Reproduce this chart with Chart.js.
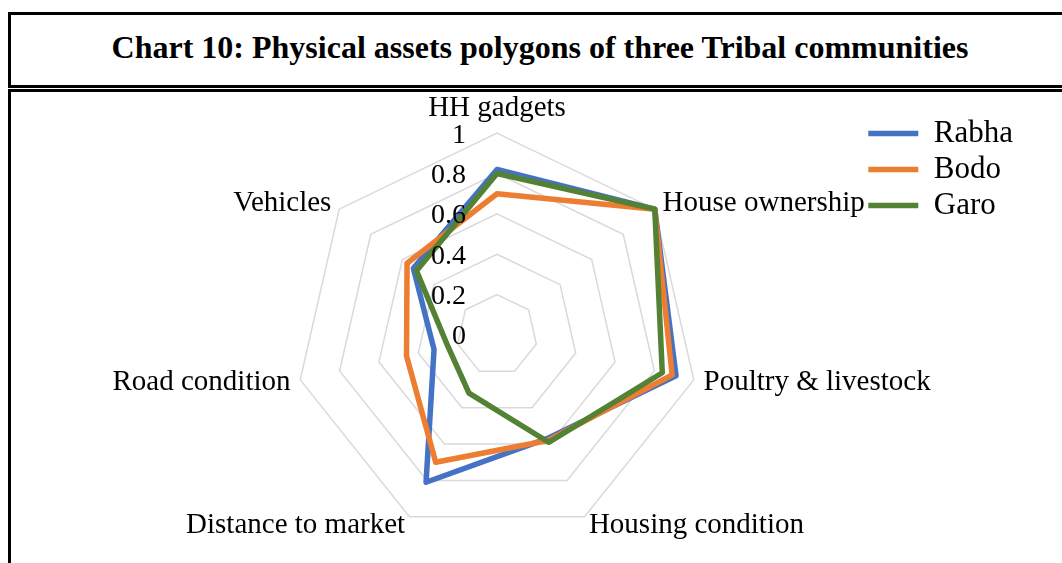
<!DOCTYPE html>
<html>
<head>
<meta charset="utf-8">
<title>Chart 10</title>
<script src="https://cdn.jsdelivr.net/npm/chart.js@4.4.0/dist/chart.umd.min.js"></script>
<style>
  html, body { margin: 0; overflow: hidden; background: #fff; }
  body { font-family: 'Liberation Serif', 'Times New Roman', serif; }
  .frame { position: absolute; box-sizing: border-box; border: 3px solid #000; }
  #titleBox {
    left: 8px; top: 12px; width: 1064px; height: 76px;
    display: flex; align-items: center; justify-content: center;
    font-weight: bold; font-size: 32px;
  }
  #titleBox span { margin-top: -6px; }
  #chartBox { left: 8px; top: 89px; width: 1070px; height: 490px; }
  #assets { position: absolute; left: 0; top: 0; z-index: 1; }
</style>
</head>
<body>
<div id="titleBox" class="frame"><span>Chart 10: Physical assets polygons of three Tribal communities</span></div>
<div id="chartBox" class="frame"></div>
<canvas id="assets" width="1062" height="563"></canvas>
<script>
const CATEGORIES = [
    'HH gadgets',
    'House ownership',
    'Poultry & livestock',
    'Housing condition',
    'Distance to market',
    'Road condition',
    'Vehicles'
];
const RABHA = [0.82, 1.0, 0.91, 0.57, 0.81, 0.32, 0.53];
const BODO = [0.70, 1.0, 0.89, 0.58, 0.70, 0.46, 0.57];
const GARO = [0.80, 1.0, 0.84, 0.59, 0.32, 0.25, 0.51];
const TICK_VALUES = [0, 0.2, 0.4, 0.6, 0.8, 1];

const SERIF = "'Liberation Serif', 'Times New Roman', serif";

// Excel-style text: category names at the ends of the spokes,
// value labels to the left of the first spoke
const axisText = {
    id: 'axisText',
    afterDraw(chart) {
        const scale = chart.scales.r;
        const ctx = chart.ctx;
        const outer = scale.getDistanceFromCenterForValue(1);
        ctx.save();
        ctx.fillStyle = '#000';

        ctx.font = '29px ' + SERIF;
        chart.data.labels.forEach((label, i) => {
            const pos = scale.getPointPosition(i, outer + 10);
            const dx = pos.x - scale.xCenter;
            if (Math.abs(dx) < 5) {
                ctx.textAlign = 'center';
            } else {
                ctx.textAlign = dx > 0 ? 'left' : 'right';
            }
            ctx.textBaseline = i === 0 ? 'bottom' : 'middle';
            ctx.fillText(label, pos.x, pos.y);
        });

        ctx.font = '28px ' + SERIF;
        ctx.textAlign = 'right';
        ctx.textBaseline = 'middle';
        TICK_VALUES.forEach(v => {
            const d = scale.getDistanceFromCenterForValue(v);
            ctx.fillText(String(v), scale.xCenter - 31, scale.yCenter - d + 2);
        });
        ctx.restore();
    }
};

const assetsChart = new Chart(document.getElementById('assets'), {
    type: 'radar',
    data: {
        labels: CATEGORIES,
        datasets: [
            {
                label: 'Rabha',
                data: RABHA,
                borderColor: '#4472C4',
                backgroundColor: 'transparent',
                borderWidth: 5.5,
                order: 3
            },
            {
                label: 'Bodo',
                data: BODO,
                borderColor: '#ED7D31',
                backgroundColor: 'transparent',
                borderWidth: 5.5,
                order: 2
            },
            {
                label: 'Garo',
                data: GARO,
                borderColor: '#548235',
                backgroundColor: 'transparent',
                borderWidth: 5.5,
                order: 1
            }
        ]
    },
    options: {
        responsive: false,
        animation: false,
        layout: {
            padding: {top: 113, bottom: 6, left: 131, right: 39}
        },
        elements: {
            line: {fill: false, tension: 0, borderJoinStyle: 'round'},
            point: {radius: 0, hoverRadius: 0}
        },
        scales: {
            r: {
                min: 0,
                max: 1.1,
                afterBuildTicks: (scale) => {
                    scale.ticks = TICK_VALUES.map(v => ({value: v}));
                },
                ticks: {display: false},
                grid: {color: '#d9d9d9', lineWidth: 1.5},
                angleLines: {display: false},
                pointLabels: {display: false}
            }
        },
        plugins: {
            legend: {
                position: 'right',
                align: 'start',
                reverse: true,
                labels: {
                    usePointStyle: true,
                    pointStyle: 'line',
                    pointStyleWidth: 50,
                    padding: 5,
                    color: '#000',
                    font: {family: SERIF, size: 31}
                }
            },
            tooltip: {enabled: false}
        }
    },
    plugins: [axisText]
});
</script>
</body>
</html>
